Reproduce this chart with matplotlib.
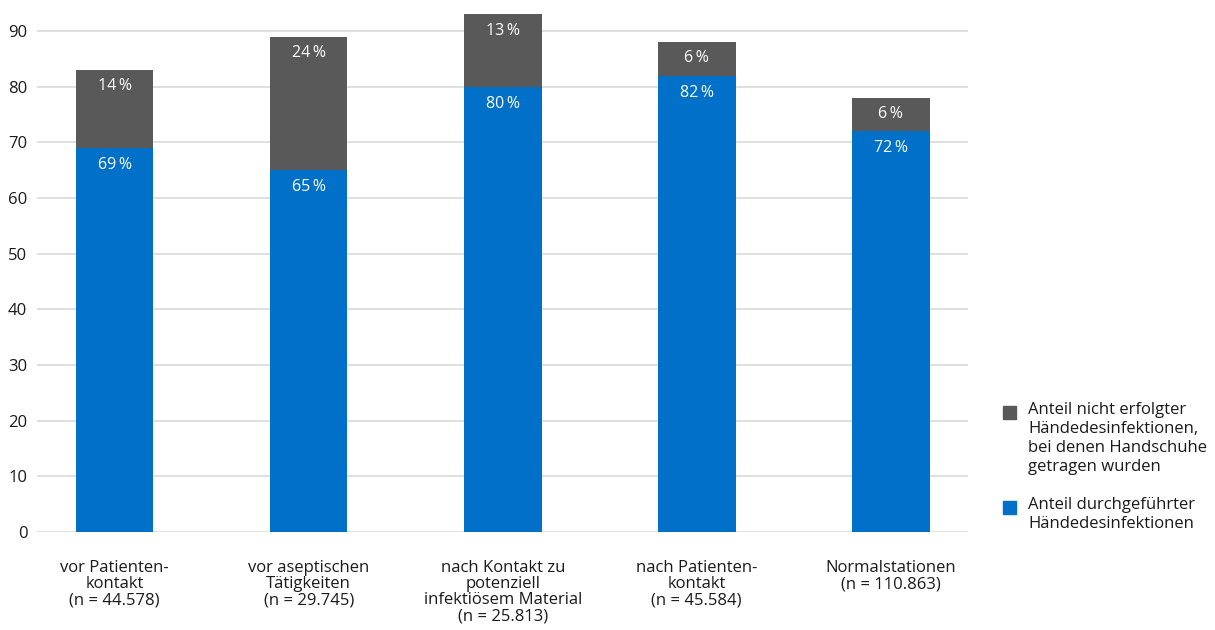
import matplotlib.pyplot as plt
from matplotlib.patches import Rectangle
import numpy as np

plt.rcParams['font.family'] = ['Open Sans', 'DejaVu Sans']

# Data
categories = ['vor Patienten-\nkontakt\n(n = 44.578)',
              'vor aseptischen\nTätigkeiten\n(n = 29.745)',
              'nach Kontakt zu\npotenziell\ninfektiösem Material\n(n = 25.813)',
              'nach Patienten-\nkontakt\n(n = 45.584)',
              'Normalstationen\n(n = 110.863)']
durchgefuehrt = [69, 65, 80, 82, 72]
handschuhe = [14, 24, 13, 6, 6]
legend_labels = ['Anteil nicht erfolgter\nHändedesinfektionen,\nbei denen Handschuhe\ngetragen wurden',
                 'Anteil durchgeführter\nHändedesinfektionen']

blue = '#0070c8'
grey = '#595959'
textcol = '#1a1a1a'

x = np.arange(len(categories))
width = 0.4

fig = plt.figure(figsize=(12.15, 6.3), dpi=100)
ax = fig.add_axes([0.0305, 0.1556, 0.7665, 0.8394])

ax.bar(x, durchgefuehrt, width, color=blue, zorder=3)
ax.bar(x, handschuhe, width, bottom=durchgefuehrt, color=grey, zorder=3)

for i in range(len(x)):
    ax.annotate(f'{durchgefuehrt[i]}\u2009%', (x[i], durchgefuehrt[i]),
                xytext=(0, -6.5), textcoords='offset points',
                ha='center', va='top', color='white', fontsize=11.5, zorder=4)
    ax.annotate(f'{handschuhe[i]}\u2009%', (x[i], durchgefuehrt[i] + handschuhe[i]),
                xytext=(0, -6), textcoords='offset points',
                ha='center', va='top', color='white', fontsize=11.5, zorder=4)

ax.set_xlim(-0.4, 4.4)
ax.set_ylim(0, 95)
ax.set_yticks(range(0, 91, 10))
ax.yaxis.grid(True, color='#d9d9d9', linewidth=1.2, zorder=0)
ax.set_xticks(x, categories, linespacing=1.03)
ax.tick_params(axis='both', length=0, labelsize=12, colors=textcol)
ax.tick_params(axis='x', pad=20)
ax.tick_params(axis='y', pad=7)
for s in ax.spines.values():
    s.set_visible(False)

# Legend, drawn by hand so that the squares sit at the first text line
W, H = 1215, 630
leg_colors = [grey, blue]
leg_tops = [405, 500]
for col, top, lab in zip(leg_colors, leg_tops, legend_labels):
    fig.patches.append(Rectangle((1003 / W, 1 - (top + 14) / H), 13 / W, 13 / H,
                                 transform=fig.transFigure, color=col))
    fig.text(1028 / W, 1 - (top - 3) / H, lab, ha='left', va='top',
             fontsize=12, color=textcol, linespacing=1.24)

fig.savefig('out.png', dpi=100)
